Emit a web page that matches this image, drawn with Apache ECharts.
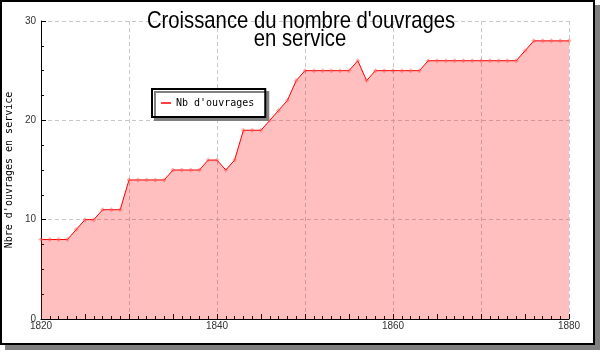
<!DOCTYPE html>
<html>
<head>
<meta charset="utf-8">
<script src="https://cdn.jsdelivr.net/npm/echarts@6/dist/echarts.min.js"></script>
<style>html,body{margin:0;padding:0;background:#fff}#c{width:600px;height:350px}</style>
</head>
<body>
<div id="c"></div>
<script>
var titleLine1 = "Croissance du nombre d'ouvrages";
var titleLine2 = "en service";
var yAxisName = "Nbre d'ouvrages en service";
var seriesName = "Nb d'ouvrages";
var years = [1820,1821,1822,1823,1824,1825,1826,1827,1828,1829,
             1830,1831,1832,1833,1834,1835,1836,1837,1838,1839,
             1840,1841,1842,1843,1844,1845,1846,1847,1848,1849,
             1850,1851,1852,1853,1854,1855,1856,1857,1858,1859,
             1860,1861,1862,1863,1864,1865,1866,1867,1868,1869,
             1870,1871,1872,1873,1874,1875,1876,1877,1878,1879,1880];
var values = [8,8,8,8,9,10,10,11,11,11,
              14,14,14,14,14,15,15,15,15,16,
              16,15,16,19,19,19,20,21,22,24,
              25,25,25,25,25,25,26,24,25,25,
              25,25,25,25,26,26,26,26,26,26,
              26,26,26,26,26,27,28,28,28,28,28];
var xLabelTicks = [1820,1840,1860,1880];
var yLabelTicks = [0,10,20,30];

var data = years.map(function(y,i){return [y, values[i]];});
var chart = echarts.init(document.getElementById('c'), null, {renderer:'canvas'});
var base = {min:1820, max:1880, type:'value', position:'bottom', gridIndex:0};
var titleFont = 'normal 24px "Liberation Sans", Arial, sans-serif';
chart.setOption({
  backgroundColor:'#ffffff',
  animation:false,
  graphic:[
    {type:'rect', z:-100, shape:{x:5,y:5,width:595,height:345}, style:{fill:'#808080'}},
    {type:'rect', z:-99, shape:{x:1,y:1,width:593,height:343}, style:{fill:'#ffffff', stroke:'#000000', lineWidth:2}},
    {type:'text', z:100, x:301, y:9, scaleX:0.845, style:{text:titleLine1, font:titleFont, fill:'#000', textAlign:'center', textVerticalAlign:'top'}},
    {type:'text', z:100, x:300, y:27, scaleX:0.845, style:{text:titleLine2, font:titleFont, fill:'#000', textAlign:'center', textVerticalAlign:'top'}}
  ],
  legend:{
    left:152, top:89, orient:'vertical',
    backgroundColor:'#fff', borderColor:'#000', borderWidth:2,
    shadowColor:'#808080', shadowBlur:0, shadowOffsetX:3, shadowOffsetY:3,
    padding:[9,11,9,9], itemWidth:10, itemHeight:1.5, itemGap:7,
    data:[{name:seriesName, icon:'rect', itemStyle:{color:'#ff0000'}}],
    textStyle:{fontFamily:'DejaVu Sans Mono', fontSize:10, color:'#000'}
  },
  grid:{left:41, right:31, top:21, bottom:31, outerBoundsMode:'none', containLabel:false},
  xAxis:[
    Object.assign({}, base, {
      interval:5,
      axisLine:{show:true, lineStyle:{color:'#000', width:1}},
      axisTick:{show:true, inside:true, length:5, lineStyle:{color:'#000'}},
      minorTick:{show:true, splitNumber:5, length:3, lineStyle:{color:'#000'}},
      axisLabel:{show:false}, splitLine:{show:false}
    }),
    Object.assign({}, base, {
      interval:10,
      axisLine:{show:false}, axisTick:{show:false}, axisLabel:{show:false},
      splitLine:{show:true, lineStyle:{color:'#c8c8c8', type:[4,3], width:1}}
    }),
    Object.assign({}, base, {
      interval:20,
      axisLine:{show:false}, axisTick:{show:false}, splitLine:{show:false},
      axisLabel:{show:true, margin:2, fontFamily:'Liberation Sans', fontSize:10, color:'#333',
        formatter:function(v){return xLabelTicks.indexOf(v)>=0 ? String(v) : '';}}
    })
  ],
  yAxis:{
    type:'value', min:0, max:30, interval:10,
    name:yAxisName, nameLocation:'middle', nameRotate:90, nameGap:25,
    nameTextStyle:{fontFamily:'DejaVu Sans Mono', fontSize:10, color:'#000'},
    axisLine:{show:true, lineStyle:{color:'#000', width:1}},
    axisTick:{show:true, inside:true, length:5, lineStyle:{color:'#000'}},
    minorTick:{show:true, splitNumber:4, length:3, lineStyle:{color:'#000'}},
    splitLine:{show:true, lineStyle:{color:'#c8c8c8', type:[4,3], width:1}},
    axisLabel:{margin:5, fontFamily:'Liberation Sans', fontSize:10, color:'#333',
      formatter:function(v){return yLabelTicks.indexOf(v)>=0 ? String(v) : '';}}
  },
  series:[{
    name:seriesName, type:'line', xAxisIndex:0, data:data,
    symbol:'diamond', symbolSize:5, showSymbol:true,
    itemStyle:{color:'rgba(255,80,80,0.45)'},
    lineStyle:{color:'#ff0000', width:1},
    areaStyle:{color:'rgba(255,0,0,0.25)', opacity:1, origin:'start'},
    z:3
  }]
});
</script>
</body>
</html>
